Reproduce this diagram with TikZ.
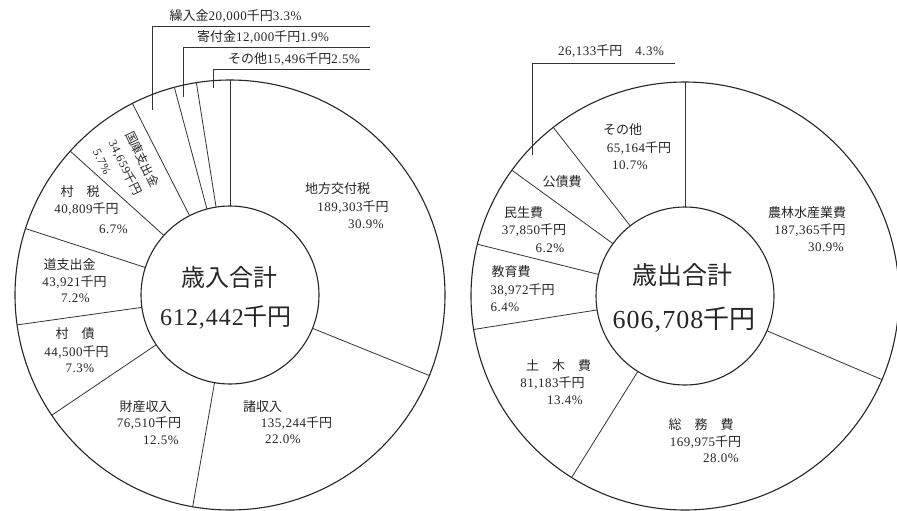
\documentclass[tikz,border=0pt]{standalone}
\usepackage{fontspec}
\setmainfont[LetterSpace=4]{Liberation Serif}
\newfontfamily\jp{Noto Sans CJK JP}
\newcommand\J[1]{{\jp #1}}
\newcommand\lb[4]{\node[lab] (#1) at (#2,#3) {#4};}
\begin{document}
\begin{tikzpicture}[x=1pt,y=-1pt,
  ring/.style={circle,draw=black!85,line width=1.1pt,inner sep=0pt,outer sep=0pt},
  div/.style={draw=black!80,line width=0.8pt},
  lab/.style={font=\fontsize{13}{16}\selectfont,inner sep=0pt,text=black!85},
  rlab/.style={font=\fontsize{12}{16}\selectfont,inner sep=0pt,text=black!85,rotate=-64,anchor=west},
  big/.style={font=\fontsize{24}{28}\selectfont,inner sep=0pt,text=black!85}]
\useasboundingbox (0,0) rectangle (897,511);
\fill[white] (0,0) rectangle (897,511);

% ---------- left chart ----------
\node[ring,minimum size=430pt] (LO) at (230,295) {};
\node[ring,minimum size=178pt] (LI) at (230,295) {};
\foreach \a in {90,-22,-100.6,-146,-172,162.7,138.5,117.8,105.8,99.1}
  \draw[div] (LI.\a) -- (LO.\a);

\node[big] (ltitle) at (229.5,277) {\J{歳入合計}};
\node[big] (ltotal) at (226,317) {612,442\J{千円}};

\lb{a1}{337.5}{189}{\J{地方交付税}}
\lb{a2}{353}{207}{189,303\J{千円}}
\lb{a3}{366}{224}{30.9\%}
\lb{b1}{262.5}{407}{\J{諸収入}}
\lb{b2}{296.5}{423}{135,244\J{千円}}
\lb{b3}{283}{439}{22.0\%}
\lb{c1}{145.5}{407}{\J{財産収入}}
\lb{c2}{149}{423}{76,510\J{千円}}
\lb{c3}{161}{440}{12.5\%}
\lb{d1}{75}{334}{\J{村　債}}
\lb{d2}{76.5}{352}{44,500\J{千円}}
\lb{d3}{80}{368}{7.3\%}
\lb{e1}{69.5}{265}{\J{道支出金}}
\lb{e2}{74.5}{282}{43,921\J{千円}}
\lb{e3}{75.5}{298}{7.2\%}
\lb{f1}{80}{192}{\J{村　税}}
\lb{f2}{86.5}{209}{40,809\J{千円}}
\lb{f3}{113.5}{229}{6.7\%}
\node[rlab] (g1) at (129,132) {\J{国庫支出金}};
\node[rlab] (g2) at (112,141) {34,659\J{千円}};
\node[rlab] (g3) at (96,150) {5.7\%};

\coordinate (k1) at (152,110); \coordinate (k1e) at (370,26);
\coordinate (k2) at (183,97);  \coordinate (k2e) at (370,47);
\coordinate (k3) at (213,88);  \coordinate (k3e) at (370,69);
\draw[div] (k1) |- (k1e);
\draw[div] (k2) |- (k2e);
\draw[div] (k3) |- (k3e);
\lb{h1}{235.5}{16}{\J{繰入金}20,000\J{千円}3.3\%}
\lb{h2}{263}{37}{\J{寄付金}12,000\J{千円}1.9\%}
\lb{h3}{294}{59}{\J{その他}15,496\J{千円}2.5\%}

% ---------- right chart ----------
\node[ring,minimum size=428pt] (RO) at (685,296) {};
\node[ring,minimum size=178pt] (RI) at (685,296) {};
\foreach \a in {90,-23.5,-122.5,-171,166,144.2,128.5}
  \draw[div] (RI.\a) -- (RO.\a);

\node[big,font=\fontsize{25}{29}\selectfont] (rtitle) at (682,275) {\J{歳出合計}};
\node[big,font=\fontsize{26}{30}\selectfont] (rtotal) at (684,320) {606,708\J{千円}};

\lb{p1}{622.5}{130}{\J{その他}}
\lb{p2}{639}{148}{65,164\J{千円}}
\lb{p3}{630}{165}{10.7\%}
\lb{q1}{562}{182}{\J{公債費}}
\lb{r1}{523.5}{213}{\J{民生費}}
\lb{r2}{534}{230}{37,850\J{千円}}
\lb{r3}{550}{248}{6.2\%}
\lb{s1}{511}{272}{\J{教育費}}
\lb{s2}{522.5}{290}{38,972\J{千円}}
\lb{s3}{505}{307}{6.4\%}
\lb{t1}{558.5}{366}{\J{土　木　費}}
\lb{t2}{552.5}{383}{81,183\J{千円}}
\lb{t3}{565}{400}{13.4\%}
\lb{u1}{701}{425}{\J{総　務　費}}
\lb{u2}{705.5}{442}{169,975\J{千円}}
\lb{u3}{721}{458}{28.0\%}
\lb{v1}{807}{213}{\J{農林水産業費}}
\lb{v2}{810}{230}{187,365\J{千円}}
\lb{v3}{826}{247}{30.9\%}

\coordinate (m1) at (532,155); \coordinate (m1e) at (675,63);
\draw[div] (m1) |- (m1e);
\lb{w1}{611}{51}{26,133\J{千円}\quad 4.3\%}
\end{tikzpicture}
\end{document}
